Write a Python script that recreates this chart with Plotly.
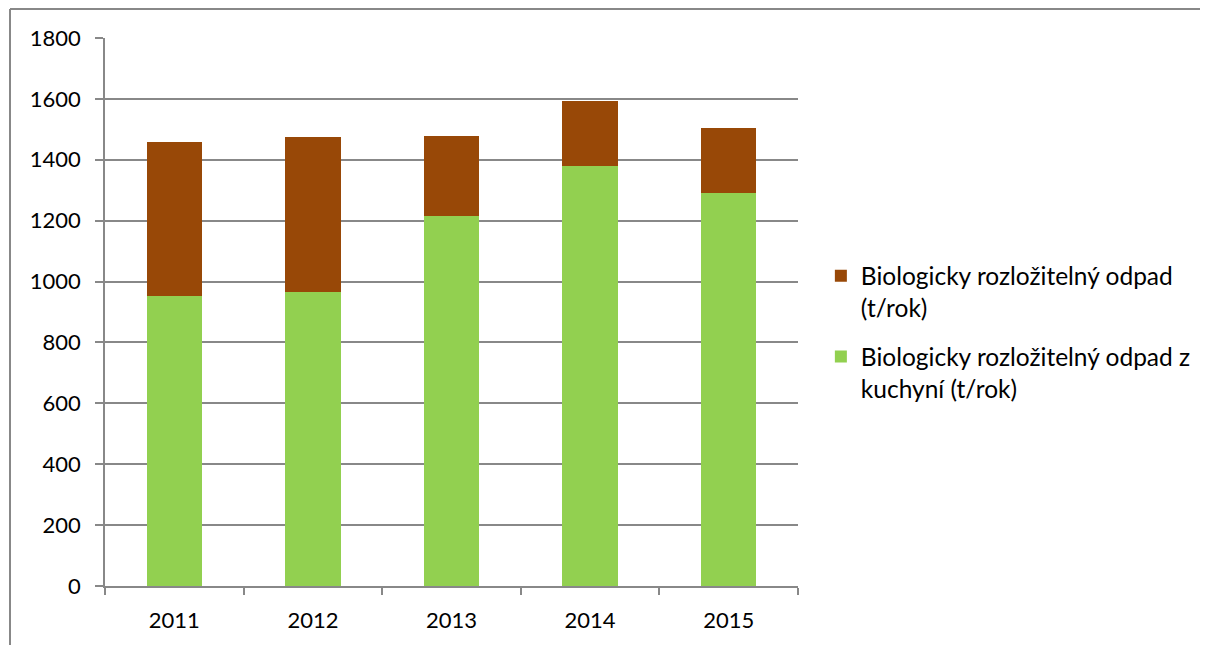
import plotly.graph_objects as go

years = ["2011", "2012", "2013", "2014", "2015"]
kitchen = [954, 966, 1214, 1381, 1290]
bio = [505, 508, 264, 213, 213]
name_bio = "Biologicky rozložitelný odpad<br>(t/rok)"
name_kitchen = "Biologicky rozložitelný odpad z<br>kuchyní (t/rok)"

FONT = "Lato"
GRID = "#888888"

L, T, PW, PH = 97, 30, 693, 548

fig = go.Figure()
fig.add_trace(go.Bar(x=years, y=kitchen, name=name_kitchen, marker_color="#92D050",
                     marker_line_width=0, width=0.4, legendgroup="k", legendrank=2))
fig.add_trace(go.Bar(x=years, y=bio, name=name_bio, marker_color="#984807",
                     marker_line_width=0, width=0.4, legendgroup="b", legendrank=1))

fig.update_layout(
    barmode="stack",
    width=1208, height=645,
    margin=dict(l=L, r=1208 - L - PW, t=T, b=645 - T - PH),
    plot_bgcolor="white", paper_bgcolor="white",
    font=dict(family=FONT, size=22, color="#000000"),
    legend=dict(x=1.033, y=0.607, xanchor="left", yanchor="top",
                traceorder="grouped", valign="top",
                font=dict(family=FONT, size=24.5), tracegroupgap=14,
                itemwidth=30),
    showlegend=True,
)
fig.update_yaxes(range=[0, 1800], dtick=200, showgrid=True, gridcolor=GRID, gridwidth=1.5,
                 showline=True, linecolor=GRID, linewidth=1.5,
                 ticks="outside", ticklen=8, tickcolor=GRID, tickwidth=1.5,
                 ticklabelstandoff=10, zeroline=False)
fig.update_xaxes(showline=True, linecolor=GRID, linewidth=1.5,
                 ticks="outside", ticklen=7, tickcolor=GRID, tickwidth=1.5,
                 tickson="boundaries", showgrid=False, ticklabelstandoff=14)

# outer chart frame: only top and left edges fall inside the view
fx0 = (2 - L) / PW
fy1 = (T + PH - 1) / PH
fig.add_shape(type="line", xref="paper", yref="paper", x0=fx0, x1=2.0, y0=fy1, y1=fy1,
              line=dict(color="#888888", width=2), layer="below")
fig.add_shape(type="line", xref="paper", yref="paper", x0=fx0, x1=fx0, y0=-0.5, y1=fy1,
              line=dict(color="#888888", width=2), layer="below")

fig.write_html("out.html")
